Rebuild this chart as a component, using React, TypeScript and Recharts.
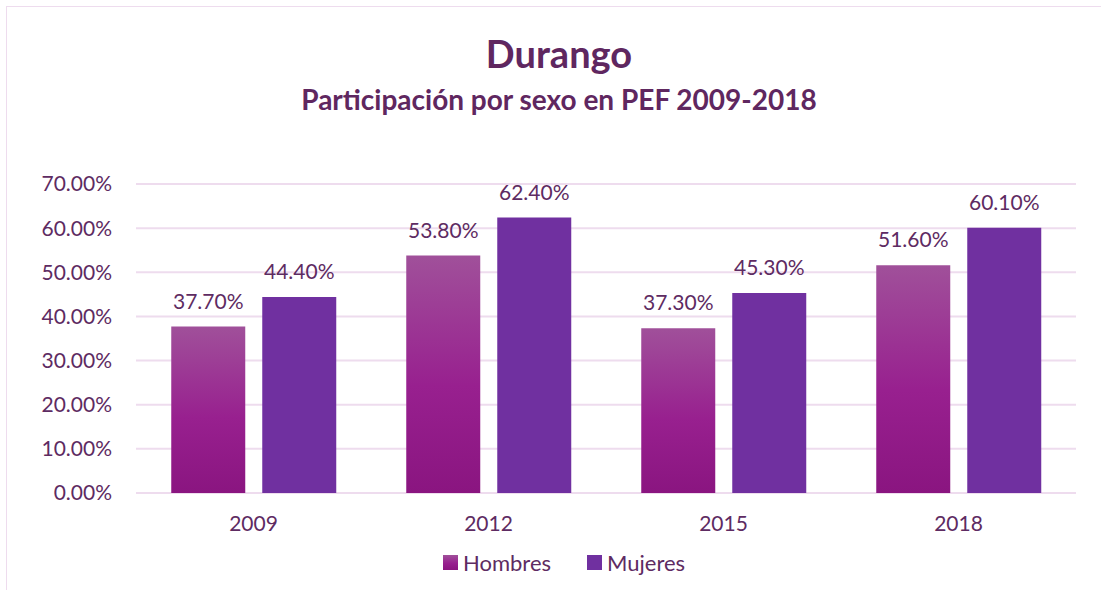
import React from 'react';
import { BarChart, Bar, XAxis, YAxis, CartesianGrid, LabelList } from 'recharts';

const years = ['2009', '2012', '2015', '2018'];
const hombres = [37.7, 53.8, 37.3, 51.6];
const mujeres = [44.4, 62.4, 45.3, 60.1];
const yTicks = [0, 10, 20, 30, 40, 50, 60, 70];

const data = years.map((year, i) => ({ year, hombres: hombres[i], mujeres: mujeres[i] }));

const TEXT = '#5E2B62';
const GRID = '#EEDCEE';
const FONT = 'Lato, "Open Sans", sans-serif';

const pct = (v: number) => `${v.toFixed(2)}%`;

const LegendBox = () => (
  <div style={{ position: 'absolute', left: 443, top: 549, display: 'flex', alignItems: 'center', fontFamily: FONT, fontSize: 22, color: TEXT }}>
    <span style={{ width: 15, height: 15, background: 'linear-gradient(#A0509A, #98208F 55%, #8A1580)', marginRight: 5 }} />
    <span style={{ marginRight: 36 }}>Hombres</span>
    <span style={{ width: 15, height: 15, background: '#7030A0', marginRight: 5 }} />
    <span>Mujeres</span>
  </div>
);

export default function App() {
  return (
    <div style={{ position: 'fixed', left: 0, top: 0, width: 1101, height: 590, overflow: 'hidden', background: '#fff' }}>
      {/* chart frame, runs off the right and bottom edge */}
      <div style={{ position: 'absolute', left: 6, top: 6, width: 1200, height: 700, borderTop: `1.5px solid ${GRID}`, borderLeft: `1.5px solid ${GRID}` }} />
      <div style={{ position: 'absolute', left: 0, width: 1118, top: 30, textAlign: 'center', fontFamily: FONT, fontWeight: 700, fontSize: 38, color: '#5F2760' }}>
        Durango
      </div>
      <div style={{ position: 'absolute', left: 0, width: 1118, top: 82, textAlign: 'center', fontFamily: FONT, fontWeight: 700, fontSize: 28, color: '#5F2760' }}>
        Participación por sexo en PEF 2009-2018
      </div>
      <div style={{ position: 'absolute', left: 0, top: 0 }}>
        <BarChart
          width={1101}
          height={590}
          data={data}
          margin={{ top: 184, right: 25, left: 0, bottom: 0 }}
          barCategoryGap="15%"
          barGap={17}
        >
          <defs>
            <linearGradient id="gradHombres" x1="0" y1="0" x2="0" y2="1">
              <stop offset="0%" stopColor="#A0509A" />
              <stop offset="55%" stopColor="#98208F" />
              <stop offset="100%" stopColor="#8A1580" />
            </linearGradient>
          </defs>
          <CartesianGrid vertical={false} stroke={GRID} strokeWidth={2} />
          <XAxis
            dataKey="year"
            height={97}
            axisLine={false}
            tickLine={false}
            tickSize={0}
            tickMargin={23}
            tick={{ fill: TEXT, fontSize: 21, fontFamily: FONT }}
          />
          <YAxis
            width={136}
            domain={[0, 70]}
            ticks={yTicks}
            tickFormatter={pct}
            axisLine={false}
            tickLine={false}
            tickSize={0}
            tickMargin={24}
            tick={{ fill: TEXT, fontSize: 21, fontFamily: FONT }}
          />
          <Bar dataKey="hombres" name="Hombres" fill="url(#gradHombres)" isAnimationActive={false}>
            <LabelList dataKey="hombres" position="top" offset={18} formatter={(v: any) => pct(Number(v))} fill={TEXT} fontSize={21} fontFamily={FONT} />
          </Bar>
          <Bar dataKey="mujeres" name="Mujeres" fill="#7030A0" isAnimationActive={false}>
            <LabelList dataKey="mujeres" position="top" offset={18} formatter={(v: any) => pct(Number(v))} fill={TEXT} fontSize={21} fontFamily={FONT} />
          </Bar>
        </BarChart>
      </div>
      <LegendBox />
    </div>
  );
}
